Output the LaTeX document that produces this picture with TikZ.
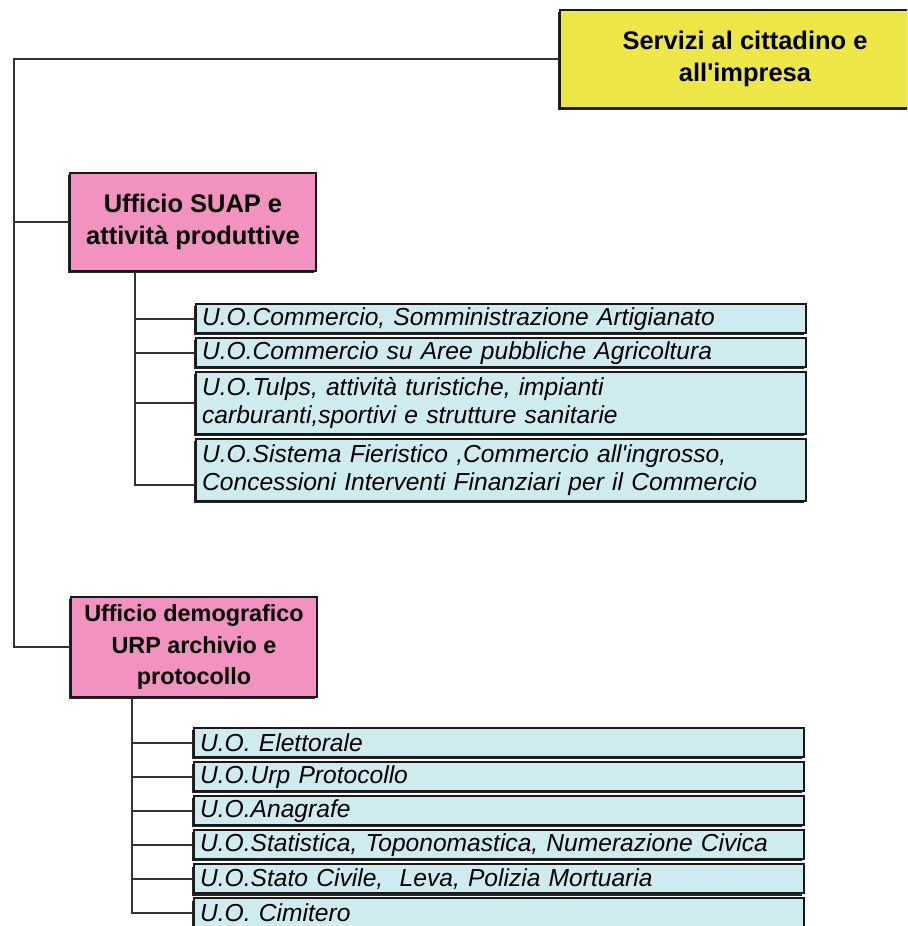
\documentclass[tikz,border=0pt]{standalone}
\usepackage{fontspec}
\setmainfont{Liberation Sans}[Ligatures=TeXOff]
\usetikzlibrary{positioning,shadows}

\definecolor{servyellow}{RGB}{236,231,70}
\definecolor{uffpink}{RGB}{241,146,192}
\definecolor{uoblue}{RGB}{206,235,239}

\begin{document}
\begin{tikzpicture}[x=0.02cm, y=-0.02cm,
  box/.style={draw=black!90, line width=1.3pt,
    drop shadow={shadow xshift=-0.045cm, shadow yshift=-0.045cm, fill=black!85, opacity=1}},
  area/.style={box, fill=servyellow, minimum width=7.4cm, minimum height=1.96cm,
    align=center, font=\bfseries\fontsize{14.5}{18.2}\selectfont},
  ufficio/.style={box, fill=uffpink, minimum width=4.92cm, minimum height=1.96cm,
    align=center, font=\bfseries\fontsize{14.5}{18}\selectfont},
  uo/.style={box, fill=uoblue, text width=11.96cm, inner xsep=0.12cm, inner ysep=0.04cm,
    minimum height=0.58cm, align=left, font=\itshape\fontsize{14}{16.2}\selectfont},
  tworow/.style={minimum height=1.24cm},
  link/.style={draw=black!80, line width=1pt}]

  % Page
  \useasboundingbox (0,0) rectangle (907,926);
  \clip (0,0) rectangle (907,926);

  % Bus lines
  \coordinate (trunk) at (14,0);
  \coordinate (sbus) at (135,0);
  \coordinate (dbus) at (132,0);

  % Area
  \node[area] (serv) at (745,59) {Servizi al cittadino e\\all'impresa};

  % Uffici
  \node[ufficio] (suap) at (193,222) {Ufficio SUAP e\\attività produttive};
  \node[ufficio, minimum height=2cm, font=\bfseries\fontsize{13.3}{17.8}\selectfont]
    (demo) at (194,647) {Ufficio demografico\\URP archivio e\\protocollo};

  % U.O. of SUAP
  \node[uo, anchor=north west] (u1) at (195,303) {U.O.Commercio, Somministrazione Artigianato};
  \node[uo, below=0.055cm of u1] (u2) {U.O.Commercio su Aree pubbliche Agricoltura};
  \node[uo, tworow, below=0.055cm of u2] (u3) {U.O.Tulps, attività turistiche, impianti\\carburanti,sportivi e strutture sanitarie};
  \node[uo, tworow, below=0.055cm of u3] (u4) {U.O.Sistema Fieristico ,Commercio all'ingrosso,\\Concessioni Interventi Finanziari per il Commercio};

  % U.O. of demografico
  \node[uo, anchor=north west] (v1) at (193,727) {U.O. Elettorale};
  \node[uo, below=0.055cm of v1] (v2) {U.O.Urp Protocollo};
  \node[uo, below=0.055cm of v2] (v3) {U.O.Anagrafe};
  \node[uo, below=0.055cm of v3] (v4) {U.O.Statistica, Toponomastica, Numerazione Civica};
  \node[uo, below=0.055cm of v4] (v5) {U.O.Stato Civile,\ \ Leva, Polizia Mortuaria};
  \node[uo, below=0.055cm of v5] (v6) {U.O. Cimitero};

  % Connectors
  \draw[link] (serv.west) -- (serv.west -| trunk) |- (demo.west);
  \draw[link] (suap.west) -- (suap.west -| trunk);
  \draw[link] (suap.south -| sbus) |- ([yshift=-0.3cm]u4.west);
  \foreach \i in {1,2,3}
    \draw[link] (u\i.west) -- (u\i.west -| sbus);
  \draw[link] (demo.south -| dbus) |- (v6.west);
  \foreach \i in {1,...,5}
    \draw[link] (v\i.west) -- (v\i.west -| dbus);

\end{tikzpicture}
\end{document}
